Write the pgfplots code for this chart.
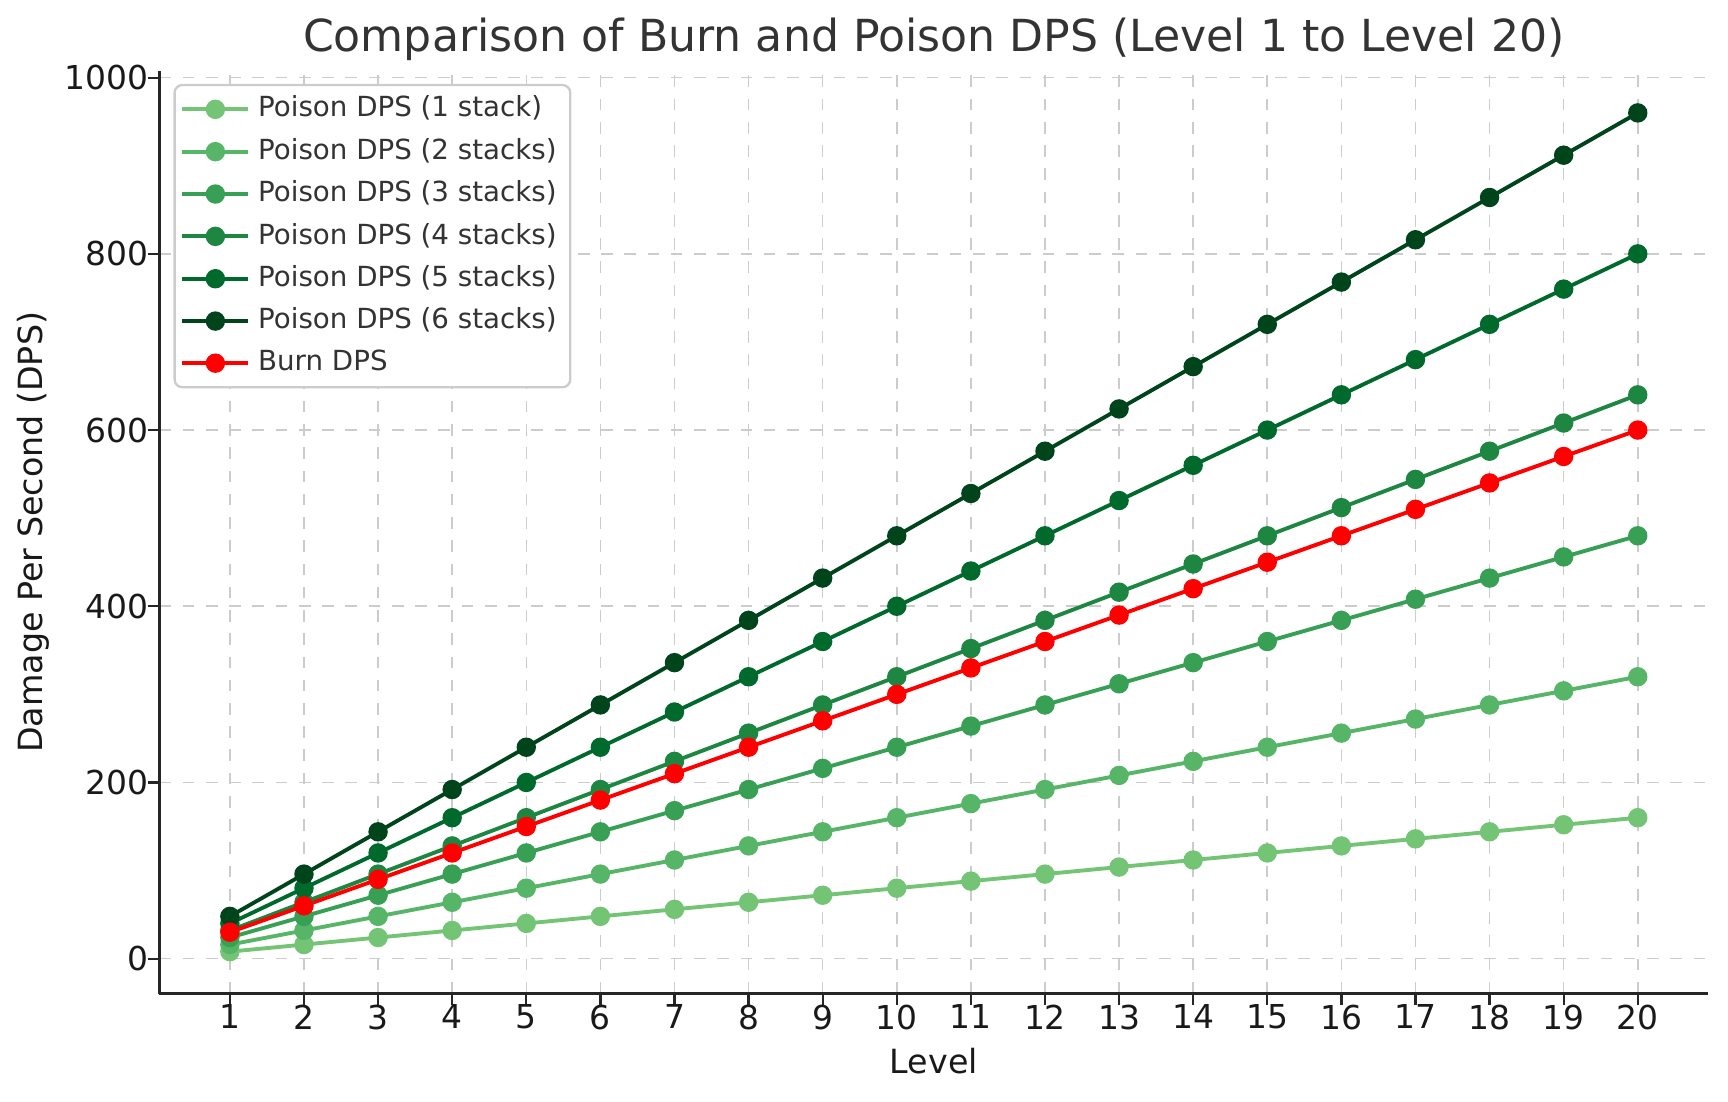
\documentclass[border=0pt]{standalone}
\usepackage{fontspec}
\setmainfont{DejaVu Sans}
\usepackage{pgfplots}
\usepackage{pgfplotstable}
\pgfplotsset{compat=1.18}

\definecolor{g1}{HTML}{74C476}
\definecolor{g2}{HTML}{56B567}
\definecolor{g3}{HTML}{38A055}
\definecolor{g4}{HTML}{1D8641}
\definecolor{g5}{HTML}{006A2C}
\definecolor{g6}{HTML}{00441B}
\definecolor{txt}{HTML}{333333}

\pgfplotstableread{
lvl p1  p2  p3  p4  p5  p6  burn
1   8   16  24  32  40  48  30
2   16  32  48  64  80  96  60
3   24  48  72  96  120 144 90
4   32  64  96  128 160 192 120
5   40  80  120 160 200 240 150
6   48  96  144 192 240 288 180
7   56  112 168 224 280 336 210
8   64  128 192 256 320 384 240
9   72  144 216 288 360 432 270
10  80  160 240 320 400 480 300
11  88  176 264 352 440 528 330
12  96  192 288 384 480 576 360
13  104 208 312 416 520 624 390
14  112 224 336 448 560 672 420
15  120 240 360 480 600 720 450
16  128 256 384 512 640 768 480
17  136 272 408 544 680 816 510
18  144 288 432 576 720 864 540
19  152 304 456 608 760 912 570
20  160 320 480 640 800 960 600
}\dps

\begin{document}
\begin{tikzpicture}
\begin{axis}[
    scale only axis,
    width=14.05cm, height=8.37cm,
    xmin=0.05, xmax=20.95,
    ymin=-39.6, ymax=1007.6,
    xtick={1,...,20},
    ytick={0,200,400,600,800,1000},
    axis x line*=bottom, axis y line*=left,
    axis line style={line width=0.6pt, black!85},
    tick style={line width=0.6pt, black!85},
    tick align=outside,
    major tick length=0.1cm,
    xmajorgrids, ymajorgrids,
    grid style={dashed, line width=0.4pt, black!20},
    tick label style={font=\fontsize{8.5}{10}\selectfont, text=black!90},
    xticklabel style={yshift=3.5pt},
    yticklabel style={xshift=3.5pt},
    /pgf/number format/assume math mode=true,
    /pgf/number format/1000 sep={},
    title={Comparison of Burn and Poison DPS (Level 1 to Level 20)},
    title style={font=\fontsize{11.4}{13}\selectfont, text=txt, yshift=-7pt},
    xlabel={Level},
    ylabel={Damage Per Second (DPS)},
    label style={font=\fontsize{8.6}{10}\selectfont, text=black!90},
    xlabel style={yshift=2pt},
    ylabel style={yshift=-3pt},
    every axis plot/.append style={line width=1pt, mark=*, mark size=2pt},
    legend cell align=left,
    legend style={at={(0.009,0.986)}, anchor=north west,
        font=\fontsize{7.15}{8.5}\selectfont, text=txt,
        draw=black!20, rounded corners=2pt, line width=0.6pt,
        inner xsep=1.5pt, inner ysep=0.8pt,
        row sep=0pt},
    legend image code/.code={
        \draw[#1, mark=none] (0cm,0cm) -- (0.6cm,0cm);
        \fill[#1] (0.3cm,0cm) circle (2pt);
    },
]
\addplot[color=g1] table[x=lvl,y=p1] {\dps};
\addlegendentry{Poison DPS (1 stack)}
\addplot[color=g2] table[x=lvl,y=p2] {\dps};
\addlegendentry{Poison DPS (2 stacks)}
\addplot[color=g3] table[x=lvl,y=p3] {\dps};
\addlegendentry{Poison DPS (3 stacks)}
\addplot[color=g4] table[x=lvl,y=p4] {\dps};
\addlegendentry{Poison DPS (4 stacks)}
\addplot[color=g5] table[x=lvl,y=p5] {\dps};
\addlegendentry{Poison DPS (5 stacks)}
\addplot[color=g6] table[x=lvl,y=p6] {\dps};
\addlegendentry{Poison DPS (6 stacks)}
\addplot[color=red] table[x=lvl,y=burn] {\dps};
\addlegendentry{Burn DPS}
\end{axis}
\path (current axis.south east) ++(0.18cm,0);
\path (current axis.outer south west) ++(-0.04cm,-0.13cm);
\path (current axis.outer north east) ++(0,0.05cm);
\end{tikzpicture}
\end{document}
